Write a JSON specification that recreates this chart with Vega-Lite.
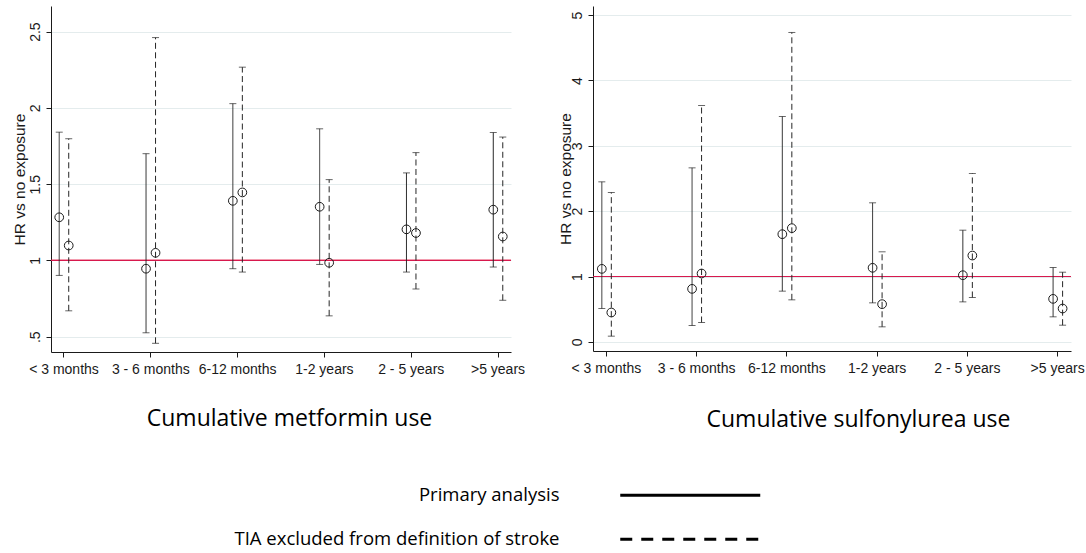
{
  "$schema": "https://vega.github.io/schema/vega-lite/v6.json",
  "padding": {"left": 11, "top": 6, "right": 5, "bottom": 0},
  "background": "white",
  "config": {
    "font": "Liberation Sans",
    "view": {"stroke": null},
    "axis": {
      "domainColor": "#1a1a1a", "tickColor": "#1a1a1a", "tickSize": 5,
      "labelColor": "#1a1a1a", "labelFontSize": 14, "labelFont": "Liberation Sans",
      "gridColor": "#e4eced", "gridWidth": 1
    },
    "legend": {
      "orient": "none", "legendX": 630, "legendY": 480, "title": null, "padding": 0,
      "symbolType": "M-10,0H10", "symbolSize": 196, "symbolStrokeWidth": 3, "symbolStrokeColor": "black", "symbolFillColor": "transparent",
      "labelFont": "Open Sans", "labelFontSize": 18.5, "labelColor": "black", "labelAlign": "right", "labelOffset": -140, "labelLimit": 500, "rowPadding": 25
    }
  },
  "datasets": {
    "metformin": [
      {"period": "< 3 months", "analysis": "Primary analysis", "hr": 1.283, "lo": 0.902, "hi": 1.841},
      {"period": "< 3 months", "analysis": "TIA excluded from definition of stroke", "hr": 1.098, "lo": 0.670, "hi": 1.798},
      {"period": "3 - 6 months", "analysis": "Primary analysis", "hr": 0.946, "lo": 0.526, "hi": 1.700},
      {"period": "3 - 6 months", "analysis": "TIA excluded from definition of stroke", "hr": 1.050, "lo": 0.457, "hi": 2.461},
      {"period": "6-12 months", "analysis": "Primary analysis", "hr": 1.391, "lo": 0.946, "hi": 2.028},
      {"period": "6-12 months", "analysis": "TIA excluded from definition of stroke", "hr": 1.446, "lo": 0.924, "hi": 2.267},
      {"period": "1-2 years", "analysis": "Primary analysis", "hr": 1.352, "lo": 0.974, "hi": 1.863},
      {"period": "1-2 years", "analysis": "TIA excluded from definition of stroke", "hr": 0.985, "lo": 0.637, "hi": 1.530},
      {"period": "2 - 5 years", "analysis": "Primary analysis", "hr": 1.204, "lo": 0.924, "hi": 1.574},
      {"period": "2 - 5 years", "analysis": "TIA excluded from definition of stroke", "hr": 1.180, "lo": 0.813, "hi": 1.707},
      {"period": ">5 years", "analysis": "Primary analysis", "hr": 1.333, "lo": 0.957, "hi": 1.839},
      {"period": ">5 years", "analysis": "TIA excluded from definition of stroke", "hr": 1.157, "lo": 0.739, "hi": 1.809}
    ],
    "sulfonylurea": [
      {"period": "< 3 months", "analysis": "Primary analysis", "hr": 1.117, "lo": 0.510, "hi": 2.449},
      {"period": "< 3 months", "analysis": "TIA excluded from definition of stroke", "hr": 0.449, "lo": 0.087, "hi": 2.286},
      {"period": "3 - 6 months", "analysis": "Primary analysis", "hr": 0.811, "lo": 0.250, "hi": 2.663},
      {"period": "3 - 6 months", "analysis": "TIA excluded from definition of stroke", "hr": 1.046, "lo": 0.296, "hi": 3.617},
      {"period": "6-12 months", "analysis": "Primary analysis", "hr": 1.648, "lo": 0.776, "hi": 3.449},
      {"period": "6-12 months", "analysis": "TIA excluded from definition of stroke", "hr": 1.740, "lo": 0.643, "hi": 4.735},
      {"period": "1-2 years", "analysis": "Primary analysis", "hr": 1.133, "lo": 0.597, "hi": 2.128},
      {"period": "1-2 years", "analysis": "TIA excluded from definition of stroke", "hr": 0.577, "lo": 0.230, "hi": 1.378},
      {"period": "2 - 5 years", "analysis": "Primary analysis", "hr": 1.020, "lo": 0.612, "hi": 1.709},
      {"period": "2 - 5 years", "analysis": "TIA excluded from definition of stroke", "hr": 1.321, "lo": 0.679, "hi": 2.577},
      {"period": ">5 years", "analysis": "Primary analysis", "hr": 0.658, "lo": 0.383, "hi": 1.138},
      {"period": ">5 years", "analysis": "TIA excluded from definition of stroke", "hr": 0.510, "lo": 0.255, "hi": 1.066}
    ]
  },
  "resolve": {"scale": {"strokeDash": "shared"}, "legend": {"strokeDash": "shared"}},
  "spacing": 33,
  "hconcat": [
    {
      "width": 460,
      "height": 346,
      "data": {"name": "metformin"},
      "layer": [
        {
          "mark": {"type": "rule", "color": "#d7194e", "strokeWidth": 1},
          "encoding": {"y": {"datum": 1, "type": "quantitative"}}
        },
        {
          "mark": {"type": "rule", "color": "#262626", "strokeWidth": 1},
          "encoding": {
            "x": {"field": "period", "type": "nominal", "sort": ["< 3 months", "3 - 6 months", "6-12 months", "1-2 years", "2 - 5 years", ">5 years"],
                  "scale": {"paddingInner": 0.781, "paddingOuter": 0.04},
                  "axis": {"labelAngle": 0, "labelPadding": 5, "title": "Cumulative metformin use", "titleFont": "Open Sans", "titleFontSize": 23, "titleFontWeight": "normal", "titleColor": "black", "titlePadding": 31, "titleX": 238, "titleAlign": "center"}},
            "xOffset": {"field": "analysis", "type": "nominal", "sort": ["Primary analysis", "TIA excluded from definition of stroke"], "scale": {"paddingInner": 0, "paddingOuter": 0}},
            "y": {"field": "lo", "type": "quantitative",
                  "scale": {"domain": [0.4, 2.668], "nice": false, "zero": false},
                  "axis": {"values": [0.5, 1, 1.5, 2, 2.5], "format": "~g", "labelAngle": -90, "labelAlign": "center", "labelBaseline": "bottom", "labelPadding": 4, "labelExpr": "datum.value == 0.5 ? '.5' : datum.label", "title": "HR vs no exposure", "titleFontWeight": "normal", "titleFontSize": 15.5, "titleColor": "#1a1a1a", "titlePadding": 1, "grid": true}},
            "y2": {"field": "hi"},
            "strokeDash": {"condition": {"test": "datum.analysis == 'TIA excluded from definition of stroke'", "value": [6, 3.5]}, "value": [1, 0]}
          }
        },
        {
          "mark": {"type": "tick", "color": "#262626", "size": 7, "thickness": 1},
          "encoding": {
            "x": {"field": "period", "type": "nominal", "sort": ["< 3 months", "3 - 6 months", "6-12 months", "1-2 years", "2 - 5 years", ">5 years"]},
            "xOffset": {"field": "analysis", "type": "nominal", "sort": ["Primary analysis", "TIA excluded from definition of stroke"]},
            "y": {"field": "lo", "type": "quantitative"},
            "strokeDash": {"field": "analysis", "type": "nominal", "sort": ["Primary analysis", "TIA excluded from definition of stroke"],
                  "scale": {"domain": ["Primary analysis", "TIA excluded from definition of stroke"], "range": [[1, 0], [12, 9]]},
                  "legend": {"encoding": {"symbols": {"stroke": {"value": "black"}, "strokeWidth": {"value": 3}, "fill": {"value": "transparent"}, "opacity": {"value": 1}}}}}
          }
        },
        {
          "mark": {"type": "tick", "color": "#262626", "size": 7, "thickness": 1},
          "encoding": {
            "x": {"field": "period", "type": "nominal", "sort": ["< 3 months", "3 - 6 months", "6-12 months", "1-2 years", "2 - 5 years", ">5 years"]},
            "xOffset": {"field": "analysis", "type": "nominal", "sort": ["Primary analysis", "TIA excluded from definition of stroke"]},
            "y": {"field": "hi", "type": "quantitative"}
          }
        },
        {
          "mark": {"type": "point", "filled": false, "color": "#1a1a1a", "size": 76, "strokeWidth": 1, "opacity": 1},
          "encoding": {
            "x": {"field": "period", "type": "nominal", "sort": ["< 3 months", "3 - 6 months", "6-12 months", "1-2 years", "2 - 5 years", ">5 years"]},
            "xOffset": {"field": "analysis", "type": "nominal", "sort": ["Primary analysis", "TIA excluded from definition of stroke"]},
            "y": {"field": "hr", "type": "quantitative"}
          }
        }
      ]
    },
    {
      "width": 478,
      "height": 345,
      "data": {"name": "sulfonylurea"},
      "layer": [
        {
          "mark": {"type": "rule", "color": "#d7194e", "strokeWidth": 1},
          "encoding": {"y": {"datum": 1, "type": "quantitative"}}
        },
        {
          "mark": {"type": "rule", "color": "#262626", "strokeWidth": 1},
          "encoding": {
            "x": {"field": "period", "type": "nominal", "sort": ["< 3 months", "3 - 6 months", "6-12 months", "1-2 years", "2 - 5 years", ">5 years"],
                  "scale": {"paddingInner": 0.794, "paddingOuter": 0.045},
                  "axis": {"labelAngle": 0, "labelPadding": 5, "title": "Cumulative sulfonylurea use", "titleFont": "Open Sans", "titleFontSize": 23, "titleFontWeight": "normal", "titleColor": "black", "titlePadding": 33, "titleX": 265, "titleAlign": "center"}},
            "xOffset": {"field": "analysis", "type": "nominal", "sort": ["Primary analysis", "TIA excluded from definition of stroke"], "scale": {"paddingInner": 0, "paddingOuter": 0}},
            "y": {"field": "lo", "type": "quantitative",
                  "scale": {"domain": [-0.14, 5.14], "nice": false, "zero": false},
                  "axis": {"values": [0, 1, 2, 3, 4, 5], "format": "d", "labelAngle": -90, "labelAlign": "center", "labelBaseline": "bottom", "labelPadding": 4, "title": "HR vs no exposure", "titleFontWeight": "normal", "titleFontSize": 15.5, "titleColor": "#1a1a1a", "titlePadding": -3, "grid": true}},
            "y2": {"field": "hi"},
            "strokeDash": {"condition": {"test": "datum.analysis == 'TIA excluded from definition of stroke'", "value": [6, 3.5]}, "value": [1, 0]}
          }
        },
        {
          "mark": {"type": "tick", "color": "#262626", "size": 7, "thickness": 1},
          "encoding": {
            "x": {"field": "period", "type": "nominal", "sort": ["< 3 months", "3 - 6 months", "6-12 months", "1-2 years", "2 - 5 years", ">5 years"]},
            "xOffset": {"field": "analysis", "type": "nominal", "sort": ["Primary analysis", "TIA excluded from definition of stroke"]},
            "y": {"field": "lo", "type": "quantitative"},
            "strokeDash": {"field": "analysis", "type": "nominal", "sort": ["Primary analysis", "TIA excluded from definition of stroke"],
                  "scale": {"domain": ["Primary analysis", "TIA excluded from definition of stroke"], "range": [[1, 0], [12, 9]]},
                  "legend": {"encoding": {"symbols": {"stroke": {"value": "black"}, "strokeWidth": {"value": 3}, "fill": {"value": "transparent"}, "opacity": {"value": 1}}}}}
          }
        },
        {
          "mark": {"type": "tick", "color": "#262626", "size": 7, "thickness": 1},
          "encoding": {
            "x": {"field": "period", "type": "nominal", "sort": ["< 3 months", "3 - 6 months", "6-12 months", "1-2 years", "2 - 5 years", ">5 years"]},
            "xOffset": {"field": "analysis", "type": "nominal", "sort": ["Primary analysis", "TIA excluded from definition of stroke"]},
            "y": {"field": "hi", "type": "quantitative"}
          }
        },
        {
          "mark": {"type": "point", "filled": false, "color": "#1a1a1a", "size": 76, "strokeWidth": 1, "opacity": 1},
          "encoding": {
            "x": {"field": "period", "type": "nominal", "sort": ["< 3 months", "3 - 6 months", "6-12 months", "1-2 years", "2 - 5 years", ">5 years"]},
            "xOffset": {"field": "analysis", "type": "nominal", "sort": ["Primary analysis", "TIA excluded from definition of stroke"]},
            "y": {"field": "hr", "type": "quantitative"}
          }
        }
      ]
    }
  ]
}
